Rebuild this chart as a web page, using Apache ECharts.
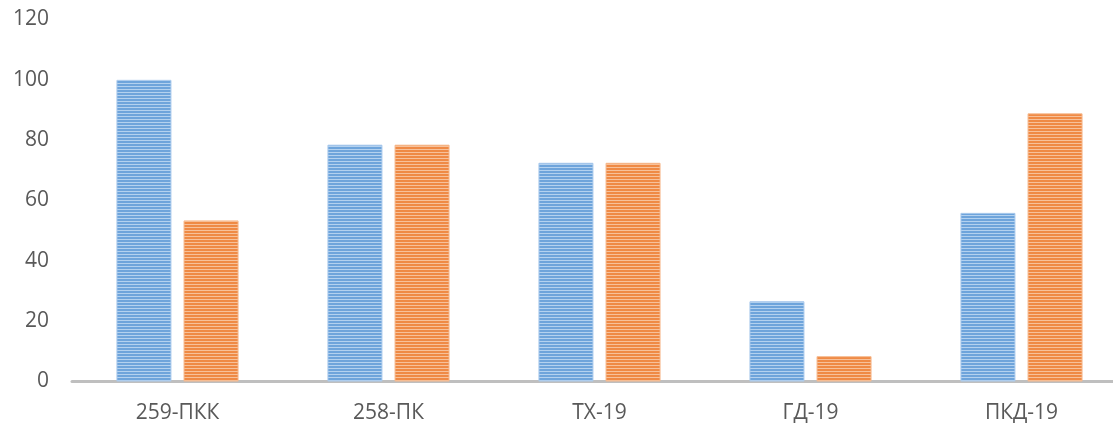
<!DOCTYPE html>
<html>
<head>
<meta charset="utf-8">
<script src="https://cdn.jsdelivr.net/npm/echarts@6/dist/echarts.min.js"></script>
<style>
html,body{margin:0;padding:0;background:#fff;}
#chart{width:1113px;height:427px;}
</style>
</head>
<body>
<div id="chart"></div>
<script>
const categories = ['259-ПКК', '258-ПК', 'ТХ-19', 'ГД-19', 'ПКД-19'];
const series1 = [100, 78.5, 72.5, 26.6, 55.9];
const series2 = [53.4, 78.5, 72.5, 8.4, 88.9];
const yTicks = [0, 20, 40, 60, 80, 100, 120];

function stripes(dark, light) {
  const c = document.createElement('canvas');
  c.width = 4; c.height = 3;
  const ctx = c.getContext('2d');
  ctx.fillStyle = dark; ctx.fillRect(0, 0, 4, 2);
  ctx.fillStyle = light; ctx.fillRect(0, 2, 4, 1);
  return { image: c, repeat: 'repeat' };
}

const chart = echarts.init(document.getElementById('chart'), null, { renderer: 'canvas' });
chart.setOption({
  animation: false,
  backgroundColor: '#ffffff',
  grid: { left: 72, top: 19.5, width: 1055, bottom: 45.5, containLabel: false, outerBoundsMode: 'none' },
  xAxis: {
    type: 'category',
    data: categories,
    axisLine: { lineStyle: { color: '#BFBFBF', width: 3 } },
    axisTick: { show: false },
    axisLabel: { color: '#595959', fontSize: 21, fontFamily: 'Open Sans', margin: 21 }
  },
  yAxis: {
    type: 'value',
    min: yTicks[0],
    max: yTicks[yTicks.length - 1],
    interval: 20,
    axisLine: { show: false },
    axisTick: { show: false },
    splitLine: { show: false },
    axisLabel: { color: '#595959', fontSize: 21, fontFamily: 'Open Sans', margin: 23 }
  },
  series: [
    {
      type: 'bar',
      data: series1,
      barWidth: 55,
      barGap: '22%',
      itemStyle: { color: stripes('#6ea4db', '#b3d1ef'), borderColor: '#a9c9ec', borderWidth: 1 }
    },
    {
      type: 'bar',
      data: series2,
      barWidth: 55,
      itemStyle: { color: stripes('#ef8a45', '#f7c19a'), borderColor: '#f6b88c', borderWidth: 1 }
    }
  ]
});
</script>
</body>
</html>
